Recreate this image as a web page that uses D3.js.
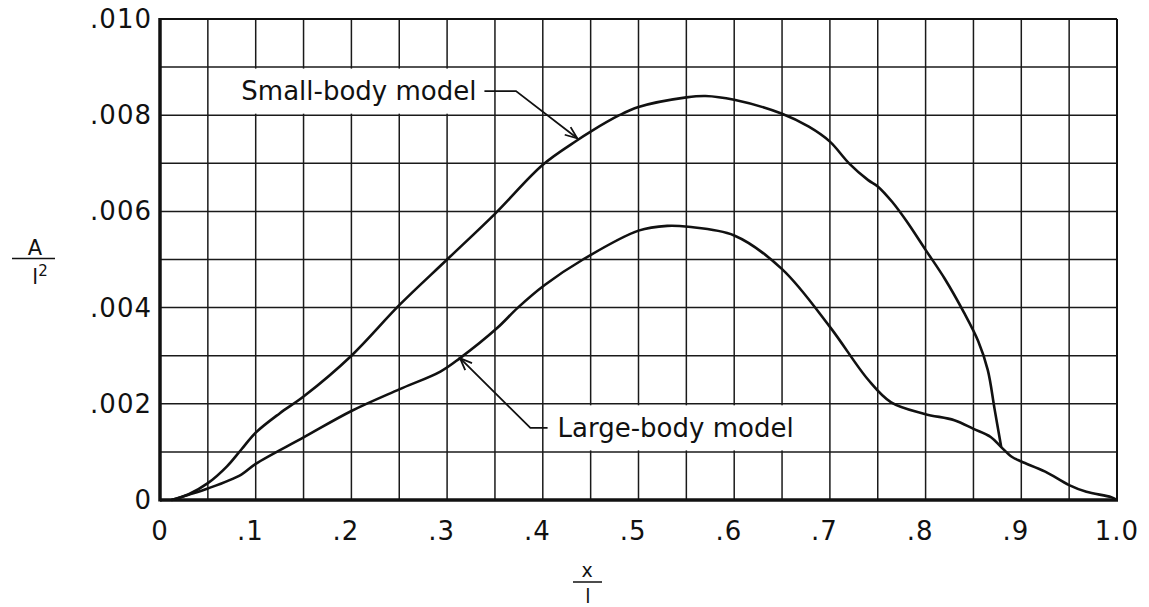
<!DOCTYPE html>
<html>
<head>
<meta charset="utf-8">
<script src="https://cdn.jsdelivr.net/npm/d3@7"></script>
<style>
  body { margin: 0; background: #fff; }
  text { font-family: "DejaVu Sans", sans-serif; fill: #111; }
</style>
</head>
<body>
<script>
// Chart values
var xTicks = [0, 0.1, 0.2, 0.3, 0.4, 0.5, 0.6, 0.7, 0.8, 0.9, 1.0],
	xTickLabels = ["0", ".1", ".2", ".3", ".4", ".5", ".6", ".7", ".8", ".9", "1.0"],
	yTicks = [0, 0.002, 0.004, 0.006, 0.008, 0.010],
	yTickLabels = ["0", ".002", ".004", ".006", ".008", ".010"];

// Small-body model
var smallX = [0.012, 0.03, 0.05, 0.07, 0.085, 0.1, 0.125, 0.15, 0.2, 0.25, 0.3, 0.35, 0.4, 0.436, 0.45, 0.48, 0.5, 0.55, 0.57, 0.6, 0.65, 0.678, 0.7, 0.72, 0.74, 0.75, 0.765, 0.78, 0.8, 0.82, 0.84, 0.855, 0.865, 0.872, 0.879],
	smallY = [0, 0.00012, 0.00035, 0.0007, 0.00105, 0.0014, 0.0018, 0.00215, 0.003, 0.00405, 0.005, 0.00595, 0.00697, 0.00748, 0.00766, 0.008, 0.00817, 0.00837, 0.0084, 0.00832, 0.00803, 0.00776, 0.00745, 0.007, 0.00665, 0.00652, 0.0062, 0.0058, 0.0052, 0.0046, 0.0039, 0.0033, 0.0027, 0.0019, 0.0011];

// Large-body model (tail after x = .879 is shared by both)
var largeX = [0.012, 0.03, 0.05, 0.085, 0.1, 0.15, 0.2, 0.25, 0.293, 0.3135, 0.352, 0.374, 0.402, 0.442, 0.5, 0.53, 0.552, 0.6, 0.65, 0.7, 0.74, 0.764, 0.799, 0.83, 0.85, 0.868, 0.879, 0.89, 0.9, 0.925, 0.95, 0.968, 0.994, 1.0],
	largeY = [0, 0.00011, 0.00024, 0.00053, 0.00075, 0.0013, 0.00185, 0.0023, 0.00267, 0.00295, 0.00357, 0.004, 0.00447, 0.005, 0.0056, 0.0057, 0.00568, 0.0055, 0.0048, 0.0036, 0.0025, 0.00203, 0.00179, 0.00166, 0.00148, 0.00131, 0.0011, 0.0009, 0.0008, 0.00059, 0.00031, 0.00017, 0.00006, 0];

// Annotations: label and leader points [x, y]
var smallLabel = "Small-body model",
	smallLeader = [[0.339, 0.0085], [0.372, 0.0085], [0.436, 0.00752]],
	largeLabel = "Large-body model",
	largeLeader = [[0.405, 0.0015], [0.387, 0.0015], [0.3135, 0.00295]];

var W = 1149, H = 607,
	margin = {top: 19, left: 160},
	w = 957,
	h = 481;

var svg = d3.select("body")
	.append("svg")
	.attr("width", W)
	.attr("height", H);

var g = svg.append("g")
	.attr("transform", "translate(" + margin.left + "," + margin.top + ")");

var x = d3.scaleLinear().domain([0, 1]).range([0, w]);
var y = d3.scaleLinear().domain([0, 0.010]).range([h, 0]);

// Grid: every .05 across, every .001 up
g.selectAll(".vgrid")
	.data(d3.range(1, 20).map(function(i) { return i * 0.05; }))
	.enter()
	.append("line")
	.attr("x1", function(d) { return x(d); })
	.attr("x2", function(d) { return x(d); })
	.attr("y1", 0)
	.attr("y2", h)
	.attr("stroke", "#1a1a1a")
	.attr("stroke-width", 1.5);
g.selectAll(".hgrid")
	.data(d3.range(1, 10).map(function(i) { return i * 0.001; }))
	.enter()
	.append("line")
	.attr("x1", 0)
	.attr("x2", w)
	.attr("y1", function(d) { return y(d); })
	.attr("y2", function(d) { return y(d); })
	.attr("stroke", "#1a1a1a")
	.attr("stroke-width", 1.5);

// White boxes behind the labels
g.append("rect")
	.attr("x", x(0.05) + 2)
	.attr("y", y(0.009) + 1.5)
	.attr("width", x(0.339) - x(0.05) - 2)
	.attr("height", y(0.008) - y(0.009) - 3)
	.attr("fill", "#fff");
g.append("rect")
	.attr("x", x(0.40) + 2)
	.attr("y", y(0.002) + 1.5)
	.attr("width", x(0.70) - x(0.40) - 4)
	.attr("height", y(0.001) - y(0.002) - 3)
	.attr("fill", "#fff");

// Frame
g.append("line").attr("x1", 0).attr("y1", 0).attr("x2", w).attr("y2", 0)
	.attr("stroke", "#111").attr("stroke-width", 2);
g.append("line").attr("x1", w).attr("y1", 0).attr("x2", w).attr("y2", h)
	.attr("stroke", "#111").attr("stroke-width", 2);
g.append("line").attr("x1", 0).attr("y1", -1).attr("x2", 0).attr("y2", h + 1.5)
	.attr("stroke", "#111").attr("stroke-width", 3.5);
g.append("line").attr("x1", 0).attr("y1", h).attr("x2", w + 1).attr("y2", h)
	.attr("stroke", "#111").attr("stroke-width", 3.5);

// Curves
var line = d3.line()
	.x(function(d) { return x(d[0]); })
	.y(function(d) { return y(d[1]); })
	.curve(d3.curveCatmullRom.alpha(0.5));

g.append("path")
	.attr("d", line(d3.zip(smallX, smallY)))
	.attr("fill", "none")
	.attr("stroke", "#111")
	.attr("stroke-width", 2.6);
g.append("path")
	.attr("d", line(d3.zip(largeX, largeY)))
	.attr("fill", "none")
	.attr("stroke", "#111")
	.attr("stroke-width", 2.6);

// Tick labels
g.selectAll(".xlab")
	.data(xTicks)
	.enter()
	.append("text")
	.text(function(d, i) { return xTickLabels[i]; })
	.attr("x", function(d, i) { return xTickLabels[i].charAt(0) == "." ? x(d) + 8 : x(d); })
	.attr("y", h + 40)
	.attr("font-size", "26px")
	.attr("letter-spacing", "1px")
	.attr("text-anchor", function(d, i) { return xTickLabels[i].charAt(0) == "." ? "end" : "middle"; });
g.selectAll(".ylab")
	.data(yTicks)
	.enter()
	.append("text")
	.text(function(d, i) { return yTickLabels[i]; })
	.attr("x", -8)
	.attr("y", function(d) { return y(d) + 9; })
	.attr("font-size", "26px")
	.attr("letter-spacing", "1px")
	.attr("text-anchor", "end");

// Annotations
var leader = d3.line()
	.x(function(d) { return x(d[0]); })
	.y(function(d) { return y(d[1]); });

function arrow(pts) {
	var a = pts[pts.length - 1], b = pts[pts.length - 2];
	var tx = x(a[0]), ty = y(a[1]), fx = x(b[0]), fy = y(b[1]);
	var ang = Math.atan2(fy - ty, fx - tx), len = 13, spread = 0.38;
	return "M" + (tx + len * Math.cos(ang - spread)) + "," + (ty + len * Math.sin(ang - spread)) +
		"L" + tx + "," + ty +
		"L" + (tx + len * Math.cos(ang + spread)) + "," + (ty + len * Math.sin(ang + spread));
}

[smallLeader, largeLeader].forEach(function(pts) {
	g.append("path")
		.attr("d", leader(pts))
		.attr("fill", "none")
		.attr("stroke", "#111")
		.attr("stroke-width", 1.8);
	g.append("path")
		.attr("d", arrow(pts))
		.attr("fill", "none")
		.attr("stroke", "#111")
		.attr("stroke-width", 1.8);
});

g.append("text")
	.text(smallLabel)
	.attr("x", x(smallLeader[0][0]) - 8)
	.attr("y", y(0.0085) + 9)
	.attr("font-size", "26px")
	.attr("text-anchor", "end");
g.append("text")
	.text(largeLabel)
	.attr("x", x(largeLeader[0][0]) + 10)
	.attr("y", y(0.0015) + 9)
	.attr("font-size", "26px")
	.attr("text-anchor", "start");

// Axis titles
svg.append("text").text("A")
	.attr("x", 35).attr("y", 255)
	.attr("font-size", "21px").attr("text-anchor", "middle");
svg.append("line").attr("x1", 12).attr("x2", 55).attr("y1", 258.5).attr("y2", 258.5)
	.attr("stroke", "#111").attr("stroke-width", 1.5);
svg.append("text")
	.attr("x", 40).attr("y", 284)
	.attr("font-size", "21px").attr("text-anchor", "middle")
	.text("l")
	.append("tspan").text("2").attr("font-size", "15px").attr("dy", "-8");

svg.append("text").text("x")
	.attr("x", 587).attr("y", 577)
	.attr("font-size", "19px").attr("text-anchor", "middle");
svg.append("line").attr("x1", 573).attr("x2", 602).attr("y1", 582).attr("y2", 582)
	.attr("stroke", "#111").attr("stroke-width", 1.5);
svg.append("text").text("l")
	.attr("x", 588).attr("y", 603)
	.attr("font-size", "19px").attr("text-anchor", "middle");
</script>
</body>
</html>
